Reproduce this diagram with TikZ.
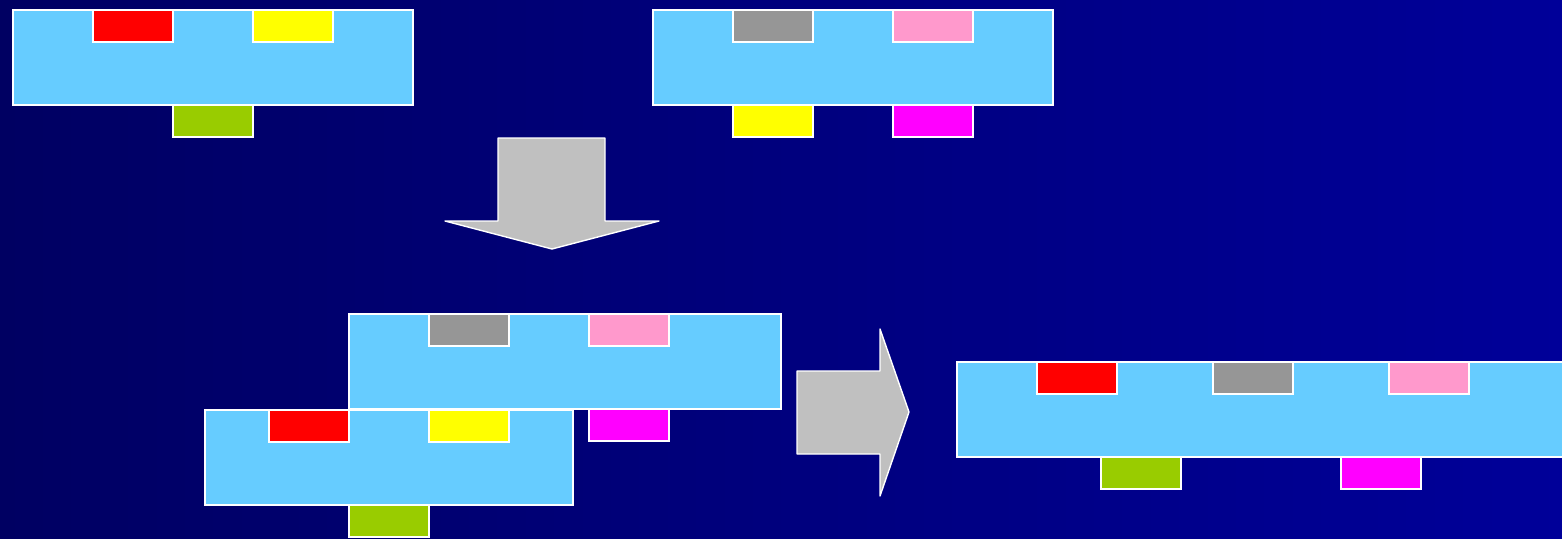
\documentclass[tikz,border=0pt]{standalone}
\usetikzlibrary{shapes.geometric}
\definecolor{bgL}{RGB}{0,0,98}
\definecolor{bgR}{RGB}{0,0,153}
\definecolor{sky}{RGB}{102,204,255}
\definecolor{cred}{RGB}{255,0,0}
\definecolor{cyel}{RGB}{255,255,0}
\definecolor{cgrn}{RGB}{153,204,0}
\definecolor{cgry}{RGB}{150,150,150}
\definecolor{cpnk}{RGB}{255,153,204}
\definecolor{cmag}{RGB}{255,0,255}
\definecolor{arr}{RGB}{192,192,192}
\tikzset{
  blk/.style={draw=white, line width=1.6pt, inner sep=0pt, outer sep=0pt, anchor=north west},
  big/.style={blk, fill=sky, minimum width=400pt, minimum height=95pt},
  tab/.style={blk, minimum width=80pt, minimum height=32pt, fill=#1},
  fatarrow/.style={draw=white, line width=1.4pt, fill=arr, line join=round}
}
\begin{document}
\begin{tikzpicture}[x=1pt,y=-1pt]
\useasboundingbox (0,0) rectangle (1562,538);
\clip (0,0) rectangle (1562,538);
\fill[left color=bgL, right color=bgR] (0,0) rectangle (1562,538);
% top-left
\node[big] (A) at (13,10) {};
\node[tab=cred] (A1) at (93,10) {};
\node[tab=cyel] (A2) at (253,10) {};
\node[tab=cgrn] (A3) at (173,105) {};
% top-right
\node[big] (B) at (653,10) {};
\node[tab=cgry] (B1) at (733,10) {};
\node[tab=cpnk] (B2) at (893,10) {};
\node[tab=cyel] (B3) at (733,105) {};
\node[tab=cmag] (B4) at (893,105) {};
% down arrow
\draw[fatarrow] (498,138) -- (605,138) -- (605,221) -- (659,221) -- (552,249) -- (445,221) -- (498,221) -- cycle;
% middle upper
\node[big, minimum width=432pt] (C) at (349,314) {};
\node[tab=cgry] (C1) at (429,314) {};
\node[tab=cpnk] (C2) at (589,314) {};
\node[tab=cmag] (C3) at (589,409) {};
% middle lower
\node[big, minimum width=368pt] (D) at (205,410) {};
\node[tab=cred] (D1) at (269,410) {};
\node[tab=cyel] (D2) at (429,410) {};
\node[tab=cgrn] (D3) at (349,505) {};
% right arrow
\draw[fatarrow] (797,371) -- (880,371) -- (880,329) -- (909,412) -- (880,496) -- (880,454) -- (797,454) -- cycle;
% result
\node[big, minimum width=660pt] (E) at (957,362) {};
\node[tab=cred] (E1) at (1037,362) {};
\node[tab=cgry] (E2) at (1213,362) {};
\node[tab=cpnk] (E3) at (1389,362) {};
\node[tab=cgrn] (E4) at (1101,457) {};
\node[tab=cmag] (E5) at (1341,457) {};
\end{tikzpicture}
\end{document}
